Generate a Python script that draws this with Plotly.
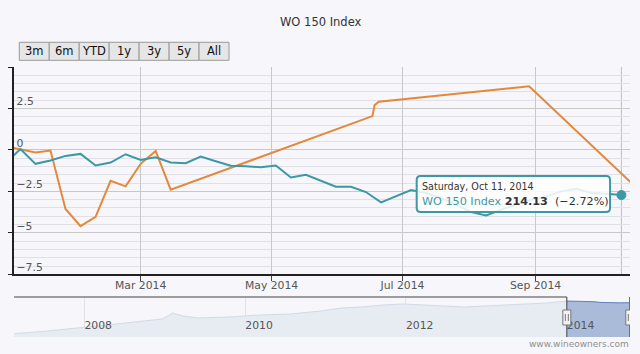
import plotly.graph_objects as go

# ---------------- data ----------------
week_dates = ["2013-12-28", "2014-01-04", "2014-01-11", "2014-01-18", "2014-01-25",
              "2014-02-01", "2014-02-08", "2014-02-15", "2014-02-22", "2014-03-01",
              "2014-03-08", "2014-03-15", "2014-03-22", "2014-03-29", "2014-04-05",
              "2014-04-12", "2014-04-19", "2014-04-26", "2014-05-03", "2014-05-10",
              "2014-05-17", "2014-05-24", "2014-05-31", "2014-06-07", "2014-06-14",
              "2014-06-21", "2014-06-28", "2014-07-05", "2014-07-12", "2014-07-19",
              "2014-07-26", "2014-08-02", "2014-08-09", "2014-08-16", "2014-08-23",
              "2014-08-30", "2014-09-06", "2014-09-13", "2014-09-20", "2014-09-27",
              "2014-10-04", "2014-10-11"]
wo150_pct = [-0.8, 0.05, -0.84, -0.64, -0.36, -0.24, -0.94, -0.76, -0.26, -0.6,
             -0.44, -0.76, -0.8, -0.4, -0.68, -0.95, -0.98, -1.05, -0.94, -1.66,
             -1.5, -1.84, -2.22, -2.22, -2.54, -3.16, -2.8, -2.42, -2.6, -2.9,
             -3.3, -3.75, -3.95, -3.6, -3.3, -3.0, -2.8, -2.5, -2.35, -2.6,
             -2.65, -2.72]

compare_dates = ["2013-12-28", "2014-01-04", "2014-01-11", "2014-01-18", "2014-01-25",
                 "2014-02-01", "2014-02-08", "2014-02-15", "2014-02-22", "2014-03-01",
                 "2014-03-08", "2014-03-15", "2014-06-17", "2014-06-18", "2014-06-20",
                 "2014-08-29", "2014-10-18"]
compare_pct = [0.22, 0.03, -0.16, -0.04, -3.56, -4.6, -4.04, -1.86, -2.2, -0.84,
               -0.06, -2.4, 2.04, 2.7, 2.9, 3.84, -2.28]

nav_dates = ["2007-01-28", "2007-07-16", "2008-02-28", "2008-08-28", "2008-12-20",
             "2009-02-05", "2009-03-24", "2009-06-01", "2009-10-19", "2010-03-08",
             "2010-07-25", "2010-12-10", "2011-03-14", "2011-06-15", "2011-09-16",
             "2011-12-18", "2012-03-20", "2012-06-21", "2012-09-22", "2012-12-24",
             "2013-03-27", "2013-06-28", "2013-09-29", "2013-12-31"]
nav_level = [100.0, 110.9, 129.2, 143.8, 154.7, 176.6, 165.6, 158.3, 162.0, 169.3,
             172.9, 183.9, 194.8, 198.4, 205.7, 209.4, 205.7, 202.1, 198.4, 202.1,
             205.7, 209.4, 213.0, 220.1]
nav_sel_dates = ["2013-12-31", "2014-02-01", "2014-03-01", "2014-04-01", "2014-05-01",
                 "2014-06-01", "2014-07-01", "2014-08-01", "2014-09-01", "2014-10-11"]
nav_sel_level = [220.1, 219.6, 218.8, 219.2, 217.9, 215.2, 214.7, 211.9, 213.6, 214.13]

x_tick_vals = ["2014-03-01", "2014-05-01", "2014-07-01", "2014-09-01"]
x_tick_text = ["Mar 2014", "May 2014", "Jul 2014", "Sep 2014"]
y_tick_vals = [-7.5, -5, -2.5, 0, 2.5, 5]
y_tick_text = ["\u22127.5", "\u22125", "\u22122.5", "0", "2.5", ""]
nav_tick_vals = ["2008-01-01", "2010-01-01", "2012-01-01", "2014-01-01"]
nav_tick_text = ["2008", "2010", "2012", "2014"]
range_buttons = ["3m", "6m", "YTD", "1y", "3y", "5y", "All"]

series_name = "WO 150 Index"
last_level = 214.13
tooltip_date = "Saturday, Oct 11, 2014"
view_start, view_end = "2014-01-01", "2014-10-15"
nav_start, nav_end = "2007-02-15", "2014-10-15"

# ---------------- style ----------------
W, H = 640, 354
ML, MR, MT, MB = 12, 10, 67, 17
PW, PH = W - ML - MR, H - MT - MB
FONT = "DejaVu Sans"
TEAL = "#3d98a5"
ORANGE = "#e4883c"
BG = "#f6f6fb"


def px(x):
    return (x - ML) / PW


def py(y):
    return (H - MB - y) / PH


def rounded_rect(x0, y0, x1, y1, r):
    # pixel coords -> paper path with rounded corners
    X = lambda v: f"{px(v):.5f}"
    Y = lambda v: f"{py(v):.5f}"
    return (f"M {X(x0 + r)},{Y(y0)} L {X(x1 - r)},{Y(y0)} Q {X(x1)},{Y(y0)} {X(x1)},{Y(y0 + r)} "
            f"L {X(x1)},{Y(y1 - r)} Q {X(x1)},{Y(y1)} {X(x1 - r)},{Y(y1)} "
            f"L {X(x0 + r)},{Y(y1)} Q {X(x0)},{Y(y1)} {X(x0)},{Y(y1 - r)} "
            f"L {X(x0)},{Y(y0 + r)} Q {X(x0)},{Y(y0)} {X(x0 + r)},{Y(y0)} Z")


fig = go.Figure()

fig.add_trace(go.Scatter(x=compare_dates, y=compare_pct, mode="lines",
                         line=dict(color=ORANGE, width=2), hoverinfo="skip",
                         showlegend=False))
fig.add_trace(go.Scatter(x=week_dates, y=wo150_pct, mode="lines", name=series_name,
                         line=dict(color=TEAL, width=2), showlegend=False))
fig.add_trace(go.Scatter(x=[week_dates[-1]], y=[wo150_pct[-1]], mode="markers",
                         marker=dict(color=TEAL, size=9, line=dict(color=TEAL, width=1)),
                         showlegend=False, hoverinfo="skip"))

# navigator
fig.add_trace(go.Scatter(x=nav_dates + nav_sel_dates, y=nav_level + nav_sel_level,
                         xaxis="x2", yaxis="y2", mode="lines", fill="tozeroy",
                         fillcolor="#e7ebf2", line=dict(color="#d3dae6", width=1),
                         showlegend=False, hoverinfo="skip"))
fig.add_trace(go.Scatter(x=nav_sel_dates, y=nav_sel_level,
                         xaxis="x2", yaxis="y2", mode="lines", fill="tozeroy",
                         fillcolor="#a9bbd9", line=dict(color="#6483b9", width=1),
                         showlegend=False, hoverinfo="skip"))

main_bottom = py(274.3)
nav_top = py(297)

shapes = []
annotations = []

# crosshair
shapes.append(dict(type="line", xref="x", yref="y domain", x0=week_dates[-1],
                   x1=week_dates[-1], y0=0, y1=1, line=dict(color="#c0c0c0", width=1),
                   layer="below"))

# range selector buttons
bx0, bw, by0, by1 = 17.3, 30.06, 42.3, 60.3
for i, lab in enumerate(range_buttons):
    x0 = bx0 + i * bw
    shapes.append(dict(type="rect", xref="paper", yref="paper", x0=px(x0), x1=px(x0 + bw),
                       y0=py(by1), y1=py(by0), fillcolor="#e6e6e6",
                       line=dict(color="#9a9a9a", width=1)))
    annotations.append(dict(xref="paper", yref="paper", x=px(x0 + bw / 2), y=py((by0 + by1) / 2),
                            text=lab, showarrow=False, xanchor="center", yanchor="middle",
                            font=dict(family=FONT, size=11.5, color="#111")))

# navigator outline
sel0, sel1 = view_start, "2014-10-14"
ot, ob = py(297), py(337)
line_style = dict(color="#444", width=1)
shapes += [
    dict(type="line", xref="x2", yref="paper", x0=nav_start, x1=sel0, y0=ot, y1=ot, line=line_style),
    dict(type="line", xref="x2", yref="paper", x0=sel0, x1=sel0, y0=ot, y1=ob, line=line_style),
    dict(type="line", xref="x2", yref="paper", x0=sel1, x1=sel1, y0=ot, y1=ob, line=line_style),
]
# handles
for anchor in (sel0, sel1):
    shapes.append(dict(type="rect", xref="x2", yref="paper", xsizemode="pixel", xanchor=anchor,
                       x0=-4, x1=4, y0=py(325), y1=py(310), fillcolor="#f2f2f2",
                       line=dict(color="#777", width=1)))
    for off in (-1.5, 1.5):
        shapes.append(dict(type="line", xref="x2", yref="paper", xsizemode="pixel", xanchor=anchor,
                           x0=off, x1=off, y0=py(321), y1=py(314),
                           line=dict(color="#777", width=1)))

# tooltip box (rounded)
shapes.append(dict(type="path", xref="paper", yref="paper", path=rounded_rect(416, 176, 610, 212, 4),
                   fillcolor="rgba(255,255,255,0.85)", line=dict(color=TEAL, width=2)))

# title
annotations.append(dict(xref="paper", yref="paper", x=px(320), y=py(22), text=series_name,
                        showarrow=False, xanchor="center", yanchor="middle",
                        font=dict(family=FONT, size=11.5, color="#333")))
# tooltip text
annotations.append(dict(xref="paper", yref="paper", x=px(419), y=py(194.5),
                        text=(f"<span style='font-size:9.6px'>{tooltip_date}</span><br>"
                              f"<span style='color:{TEAL}'>{series_name}</span> "
                              f"<b>{last_level:.2f}</b>  (\u2212{abs(wo150_pct[-1]):.2f}%)"),
                        showarrow=False, xanchor="left", yanchor="middle",
                        align="left", font=dict(family=FONT, size=11.2, color="#333")))
# credits
annotations.append(dict(xref="paper", yref="paper", x=px(631), y=py(344), text="www.wineowners.com",
                        showarrow=False, xanchor="right", yanchor="middle",
                        font=dict(family=FONT, size=9, color="#909090")))

fig.update_layout(
    width=W, height=H, margin=dict(l=ML, r=MR, t=MT, b=MB),
    paper_bgcolor=BG, plot_bgcolor=BG,
    showlegend=False, hovermode=False,
    shapes=shapes, annotations=annotations,
    xaxis=dict(domain=[0, 1], range=[view_start, view_end], type="date",
               tickvals=x_tick_vals, ticktext=x_tick_text,
               showgrid=True, gridcolor="#c8c8c8", gridwidth=1,
               showline=True, linecolor="#222", linewidth=1.5,
               ticks="outside", ticklen=5, tickcolor="#444",
               ticklabelstandoff=-5,
               tickfont=dict(family=FONT, size=10.8, color="#555"),
               anchor="y", zeroline=False, fixedrange=True),
    yaxis=dict(domain=[main_bottom, 1], range=[-7.5, 5],
               tickvals=y_tick_vals, ticktext=y_tick_text,
               showgrid=True, gridcolor="#c8c8c8", gridwidth=1,
               minor=dict(dtick=0.5, tick0=0, showgrid=True, gridcolor="#e0e0e6", ticklen=0),
               showline=True, linecolor="#222", linewidth=1.5,
               ticks="outside", ticklen=4, tickcolor="#222",
               ticklabelposition="inside", ticklabelshift=-7, ticklabelstandoff=2,
               tickfont=dict(family=FONT, size=10.8, color="#555"),
               zeroline=False, anchor="x"),
    xaxis2=dict(domain=[0, 1], range=[nav_start, nav_end], type="date", anchor="y2",
                tickvals=nav_tick_vals, ticktext=nav_tick_text,
                showgrid=True, gridcolor="#e2e2e8", ticks="",
                ticklabelposition="inside right",
                tickfont=dict(family=FONT, size=10.8, color="#555"),
                showline=False, zeroline=False),
    yaxis2=dict(domain=[0, nav_top], range=[89, 235], anchor="x2",
                showticklabels=False, showgrid=False, zeroline=False, showline=False),
)

fig.write_html("out.html")
